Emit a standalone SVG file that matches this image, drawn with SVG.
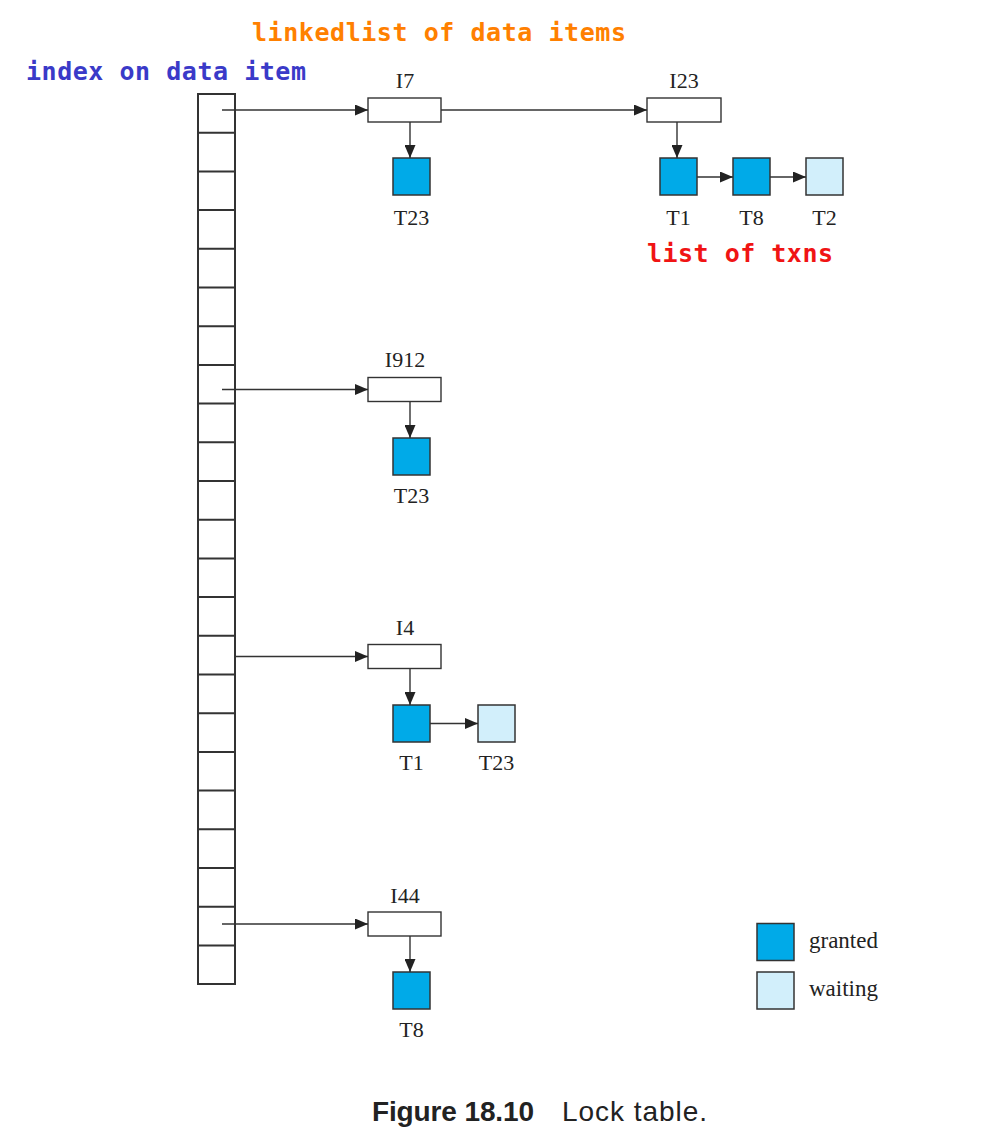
<svg xmlns="http://www.w3.org/2000/svg" width="1006" height="1141" viewBox="0 0 1006 1141">
<defs>
<marker id="ah" viewBox="0 0 13 11" refX="13" refY="5.5" markerWidth="13" markerHeight="11" markerUnits="userSpaceOnUse" orient="auto">
<path d="M0,0 L13,5.5 L0,11 Z" fill="#222"/>
</marker>
</defs>
<style>
.bg{fill:#ffffff}
.col{fill:#fff;stroke:#333;stroke-width:2}
.row{stroke:#333;stroke-width:2}
.item{fill:#fff;stroke:#333;stroke-width:1.4}
.g{fill:#00aae8;stroke:#333;stroke-width:1.5}
.w{fill:#d2effb;stroke:#333;stroke-width:1.5}
.lbl{font-family:"Liberation Serif","Times New Roman",serif;font-size:22px;fill:#222;text-anchor:middle}
.leg{font-family:"Liberation Serif","Times New Roman",serif;font-size:23px;fill:#222}
.mono{font-family:"DejaVu Sans Mono",monospace;font-weight:bold;font-size:25px}
.cap{font-family:"Liberation Sans",Arial,sans-serif;font-size:28px;fill:#222}
.conn line{stroke:#333;stroke-width:1.4;marker-end:url(#ah)}
</style>
<rect class="bg" x="0" y="0" width="1006" height="1141"/>

<text class="mono" x="252" y="41" fill="#ff8000" textLength="374" lengthAdjust="spacing">linkedlist of data items</text>
<text class="mono" x="26" y="80" fill="#3a3ac8" textLength="280" lengthAdjust="spacing">index on data item</text>
<text class="mono" x="647" y="262" fill="#f01414" textLength="186" lengthAdjust="spacing">list of txns</text>

<g id="index">
<rect class="col" x="198" y="94" width="37" height="890"/>
<path class="row" d="M198,132.7H235M198,171.4H235M198,210.1H235M198,248.8H235M198,287.5H235M198,326.2H235M198,364.9H235M198,403.6H235M198,442.3H235M198,481H235M198,519.7H235M198,558.4H235M198,597.1H235M198,635.8H235M198,674.5H235M198,713.2H235M198,751.9H235M198,790.6H235M198,829.3H235M198,868H235M198,906.7H235M198,945.4H235"/>
</g>

<g id="I7"><rect class="item" x="368" y="98" width="73" height="24"/><text class="lbl" x="405" y="88">I7</text></g>
<g id="I23"><rect class="item" x="647" y="98" width="74" height="24"/><text class="lbl" x="684" y="88">I23</text></g>
<g id="I912"><rect class="item" x="368" y="377.5" width="73" height="24"/><text class="lbl" x="405" y="367">I912</text></g>
<g id="I4"><rect class="item" x="368" y="644.5" width="73" height="24"/><text class="lbl" x="405" y="635">I4</text></g>
<g id="I44"><rect class="item" x="368" y="912" width="73" height="24"/><text class="lbl" x="405" y="903">I44</text></g>

<g id="I7_T23"><rect class="g" x="393" y="158" width="37" height="37"/><text class="lbl" x="411.5" y="225">T23</text></g>
<g id="I23_T1"><rect class="g" x="660" y="158" width="37" height="37"/><text class="lbl" x="678.5" y="225">T1</text></g>
<g id="I23_T8"><rect class="g" x="733" y="158" width="37" height="37"/><text class="lbl" x="751.5" y="225">T8</text></g>
<g id="I23_T2"><rect class="w" x="806" y="158" width="37" height="37"/><text class="lbl" x="824.5" y="225">T2</text></g>
<g id="I912_T23"><rect class="g" x="393" y="438" width="37" height="37"/><text class="lbl" x="411.5" y="503">T23</text></g>
<g id="I4_T1"><rect class="g" x="393" y="705" width="37" height="37"/><text class="lbl" x="411.5" y="770">T1</text></g>
<g id="I4_T23"><rect class="w" x="478" y="705" width="37" height="37"/><text class="lbl" x="496.5" y="770">T23</text></g>
<g id="I44_T8"><rect class="g" x="393" y="972" width="37" height="37"/><text class="lbl" x="411.5" y="1037">T8</text></g>

<g id="legend">
<rect class="g" x="757" y="923.5" width="37" height="37"/><text class="leg" x="809" y="948">granted</text>
<rect class="w" x="757" y="972" width="37" height="37"/><text class="leg" x="809" y="996">waiting</text>
</g>

<g class="conn" id="connectors">
<line x1="222" y1="110" x2="368" y2="110"/>
<line x1="441" y1="110" x2="647" y2="110"/>
<line x1="410" y1="122" x2="410" y2="158"/>
<line x1="677" y1="122" x2="677" y2="158"/>
<line x1="697" y1="177" x2="733" y2="177"/>
<line x1="770" y1="177" x2="806" y2="177"/>
<line x1="222" y1="389.5" x2="368" y2="389.5"/>
<line x1="410" y1="401.5" x2="410" y2="438"/>
<line x1="235" y1="656.5" x2="368" y2="656.5"/>
<line x1="410" y1="668.5" x2="410" y2="705"/>
<line x1="430" y1="723.5" x2="478" y2="723.5"/>
<line x1="222" y1="924" x2="368" y2="924"/>
<line x1="410" y1="936" x2="410" y2="972"/>
</g>

<g id="caption">
<text class="cap" x="372" y="1121" font-weight="bold" textLength="162" lengthAdjust="spacing">Figure 18.10</text>
<text class="cap" x="562" y="1121" textLength="145" lengthAdjust="spacing">Lock table.</text>
</g>
</svg>
